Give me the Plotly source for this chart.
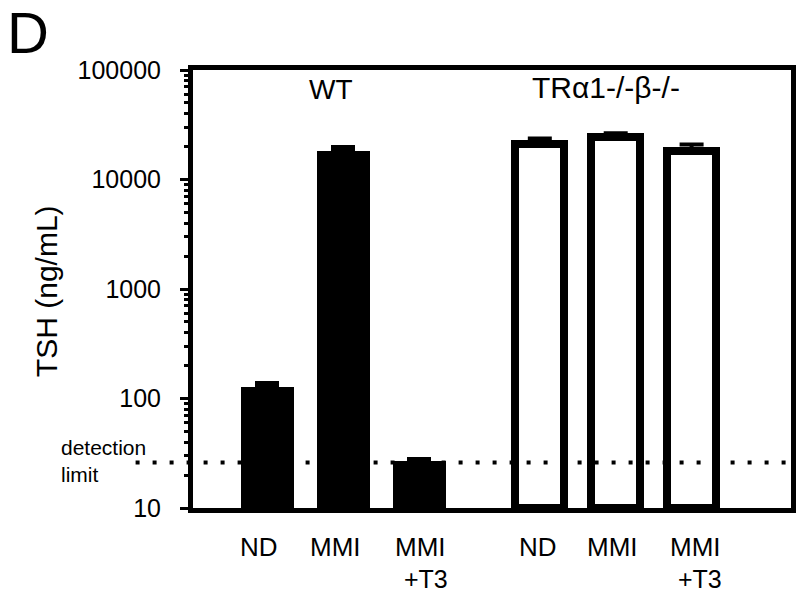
import numpy as np
import plotly.graph_objects as go

# ---- data ----
label_line1 = ["ND", "MMI", "MMI"]
label_line2 = ["", "", "+T3"]
wt_values = [128, 18400, 26.8]
wt_errors = [11, 1300, 1.5]
ko_values = [20900, 24400, 18400]
ko_errors = [2800, 2100, 2450]
group_titles = ["WT", "TRα1-/-β-/-"]
detection_limit = 26
ytick_vals = [10, 100, 1000, 10000, 100000]
ytick_text = ["10", "100", "1000", "10000", "100000"]
minor_vals = [m * 10 ** e for e in range(1, 5) for m in range(2, 10)]

# ---- layout helpers ----
group_gap = 3.59
wt_x = [i for i in range(len(label_line1))]
ko_x = [i + group_gap for i in range(len(label_line1))]
BASE = 10
label_dx_line1 = [-8, -8, 1, -2, -3, 4]
label_dx_line2 = [0, 0, 7, 0, 0, 8]

FONT = "Liberation Sans, Arial, Helvetica, sans-serif"

fig = go.Figure()
fig.add_trace(go.Bar(
    x=wt_x, y=[v - BASE for v in wt_values], base=BASE, width=0.70,
    marker=dict(color="black", line=dict(width=0)),
    error_y=dict(type="data", array=wt_errors, symmetric=False,
                 arrayminus=[0] * 3, color="black", thickness=4, width=12),
    showlegend=False,
))
fig.add_trace(go.Bar(
    x=ko_x, y=[v - BASE for v in ko_values], base=BASE, width=0.645,
    marker=dict(color="white", line=dict(color="black", width=8)),
    error_y=dict(type="data", array=ko_errors, symmetric=False,
                 arrayminus=[0] * 3, color="black", thickness=4, width=12),
    showlegend=False,
))

fig.update_layout(
    width=800, height=596,
    margin=dict(l=192.5, r=8.5, t=69.5, b=87.5, autoexpand=False),
    paper_bgcolor="white", plot_bgcolor="white",
    font=dict(family=FONT, color="black"),
    bargap=0,
    xaxis=dict(
        range=[-0.98, 6.90], showgrid=False, zeroline=False,
        showline=True, linewidth=5, linecolor="black", mirror=True,
        showticklabels=False, ticks="", automargin=False,
    ),
    yaxis=dict(
        type="log", range=[1, 5], showgrid=False, zeroline=False,
        showline=True, linewidth=5, linecolor="black", mirror=True,
        tickvals=ytick_vals, ticktext=ytick_text, automargin=False,
        ticks="outside", ticklen=8, tickwidth=3, tickcolor="black",
        tickfont=dict(size=25, family=FONT), ticklabelstandoff=14,
        minor=dict(ticks="outside", ticklen=4, tickwidth=3, tickcolor="black",
                   tickmode="array", tickvals=minor_vals, showgrid=False),
    ),
)

# detection limit dotted line
fig.add_shape(type="line", xref="paper", yref="y", x0=-0.096, x1=1,
              y0=detection_limit, y1=detection_limit,
              line=dict(color="black", width=4, dash="4px,13px"), layer="above")

# x category labels
all_x = wt_x + ko_x
for i, xv in enumerate(all_x):
    fig.add_annotation(x=xv, y=0, xref="x", yref="paper", text=label_line1[i % 3],
                       showarrow=False, xshift=label_dx_line1[i], yshift=-38.5,
                       yanchor="middle", borderpad=0, font=dict(size=26, family=FONT))
    if label_line2[i % 3]:
        fig.add_annotation(x=xv, y=0, xref="x", yref="paper", text=label_line2[i % 3],
                           showarrow=False, xshift=label_dx_line2[i], yshift=-71,
                           yanchor="middle", borderpad=0, font=dict(size=25, family=FONT))

# group titles
fig.add_annotation(x=wt_x[1], y=1, xref="x", yref="paper", text=group_titles[0],
                   showarrow=False, xshift=-12, yshift=-19.5, yanchor="middle",
                   font=dict(size=28, family=FONT))
fig.add_annotation(x=ko_x[1], y=1, xref="x", yref="paper", text=group_titles[1],
                   showarrow=False, xshift=-10, yshift=-17, yanchor="middle",
                   font=dict(size=30, family=FONT))
# y title
fig.add_annotation(x=0, y=0.494, xref="paper", yref="paper", text="TSH (ng/mL)",
                   textangle=-90, showarrow=False, xshift=-146.5, xanchor="center",
                   font=dict(size=30, family=FONT))
# detection limit label
fig.add_annotation(x=0, y=np.log10(detection_limit), xref="paper", yref="y",
                   text="detection<br>limit", align="left", showarrow=False,
                   xanchor="left", xshift=-134.5, yshift=2,
                   font=dict(size=21, family=FONT))
# panel letter
fig.add_annotation(x=0, y=1, xref="paper", yref="paper", text="D",
                   showarrow=False, xshift=-165.5, yshift=38,
                   xanchor="center", yanchor="middle",
                   font=dict(size=58, family=FONT))

fig.write_html("out.html", config={"displayModeBar": False},
               post_script="document.body.style.margin='0';document.body.style.padding='0';")
